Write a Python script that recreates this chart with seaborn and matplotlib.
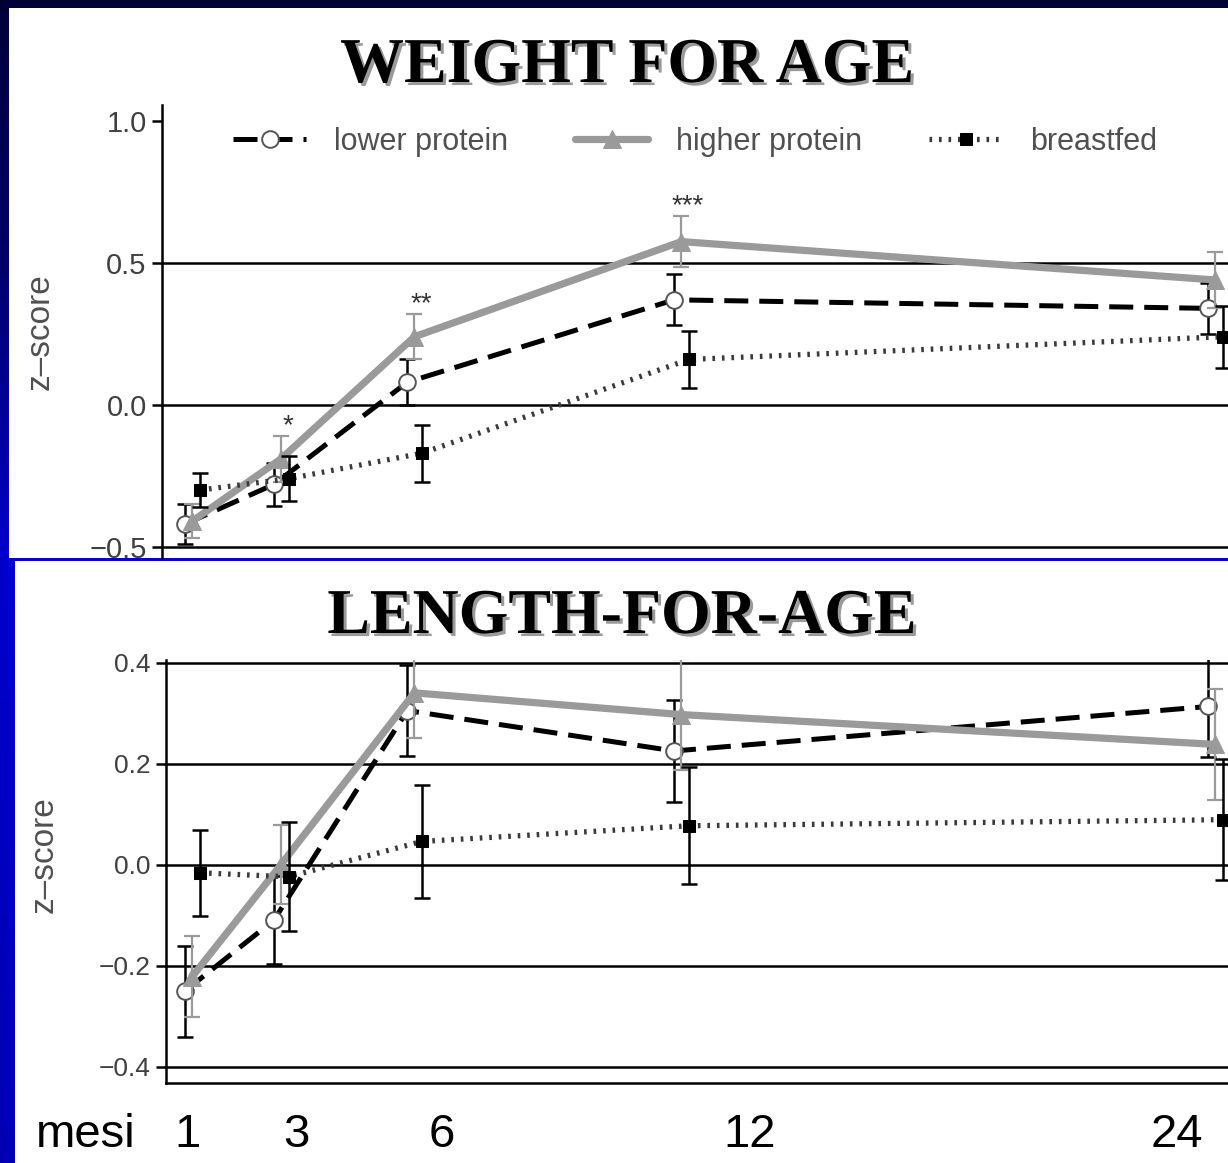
import numpy as np
import matplotlib
matplotlib.use('Agg')
import matplotlib.pyplot as plt
import matplotlib.patheffects as pe
from matplotlib.patches import Rectangle
import seaborn as sns

# months of follow-up
months = [1, 3, 6, 12, 24]
groups = ['lower protein', 'higher protein', 'breastfed']

# weight-for-age z-scores (mean and half width of error bar)
wfa_lower = [-0.42, -0.28, 0.08, 0.37, 0.34]
wfa_lower_err = [0.07, 0.075, 0.08, 0.09, 0.09]
wfa_higher = [-0.41, -0.19, 0.24, 0.575, 0.44]
wfa_higher_err = [0.06, 0.08, 0.08, 0.09, 0.10]
wfa_breast = [-0.30, -0.26, -0.17, 0.16, 0.24]
wfa_breast_err = [0.06, 0.08, 0.10, 0.10, 0.11]
wfa_stars = ['', '*', '**', '***', '']

# length-for-age z-scores
lfa_lower = [-0.25, -0.11, 0.305, 0.225, 0.313]
lfa_lower_err = [0.09, 0.087, 0.09, 0.10, 0.10]
lfa_higher = [-0.222, 0.0, 0.34, 0.297, 0.238]
lfa_higher_err = [0.08, 0.078, 0.09, 0.11, 0.11]
lfa_breast = [-0.016, -0.024, 0.046, 0.077, 0.089]
lfa_breast_err = [0.085, 0.108, 0.112, 0.116, 0.12]

mesi_labels = ['1', '3', '6', '12', '24']

sns.set_style('ticks')
plt.rcParams['font.family'] = ['Liberation Sans', 'DejaVu Sans']
plt.rcParams['text.color'] = 'black'

W, H = 1228, 1163
fig = plt.figure(figsize=(W / 100, H / 100), dpi=100)

# slide background: blue gradient and two white panels
bg = fig.add_axes([0, 0, 1, 1], zorder=-10)
rows = np.arange(H)
grad = np.zeros((H, 1, 3))
grad[:, 0, 2] = np.interp(rows, [0, 250, 560, 1163], [0.22, 0.40, 0.80, 0.70])
bg.imshow(grad, extent=(0, W, H, 0), aspect='auto', interpolation='bilinear')
bg.add_patch(Rectangle((9, 8), W - 9, 550, facecolor='white', edgecolor='none'))
bg.add_patch(Rectangle((15, 561), W - 15, H - 561, facecolor='white', edgecolor='none'))
bg.set_xlim(0, W)
bg.set_ylim(H, 0)
bg.axis('off')

title_fx = [pe.withSimplePatchShadow(offset=(2.2, -2.2), shadow_rgbFace='#9a9a9a', alpha=1.0)]
bg.text(627, 82, 'WEIGHT FOR AGE', ha='center', va='baseline', fontsize=46, color='black',
        fontweight='bold', family='Liberation Serif', path_effects=title_fx)
bg.text(622, 633, 'LENGTH-FOR-AGE', ha='center', va='baseline', fontsize=46, color='black',
        fontweight='bold', family='Liberation Serif', path_effects=title_fx)

# "mesi" month labels typed on the slide
bg.text(36, 1147, 'mesi', ha='left', va='baseline', fontsize=34, color='black')
for lab, px in zip(mesi_labels, [188, 296, 442, 750, 1177]):
    bg.text(px, 1147, lab, ha='center', va='baseline', fontsize=34, color='black')

# line and error bar styles per group
line_styles = {
    'lower protein': dict(color='black', linewidth=3.6, linestyle=(0, (4.8, 2.2)), marker='o',
                          markersize=12, markerfacecolor='white', markeredgecolor='#555',
                          markeredgewidth=1.4),
    'higher protein': dict(color='#9a9a9a', linewidth=5.2, linestyle='-', marker='^',
                           markersize=13, markerfacecolor='#9a9a9a', markeredgecolor='#9a9a9a'),
    'breastfed': dict(color='#3a3a3a', linewidth=3.8, linestyle=(0, (0.5, 1.3)), marker='s',
                      markersize=9, markerfacecolor='black', markeredgecolor='black'),
}
bar_styles = {
    'lower protein': dict(ecolor='black', elinewidth=1.8, capthick=1.8),
    'higher protein': dict(ecolor='#9a9a9a', elinewidth=1.6, capthick=1.6),
    'breastfed': dict(ecolor='black', elinewidth=1.8, capthick=1.8),
}
dodge = {'lower protein': -0.16, 'higher protein': 0.0, 'breastfed': 0.17}


def draw_panel(ax, values, errors, with_legend):
    for i, g in enumerate(groups):
        x = np.array(months) + dodge[g]
        ax.errorbar(x, values[i], yerr=errors[i], fmt='none', capsize=6, zorder=2 + i,
                    **bar_styles[g])
        sns.lineplot(x=x, y=values[i], ax=ax, label=g if with_legend else None,
                     legend=with_legend, zorder=2.5 + i, **line_styles[g])
    ax.set_xticks([])
    ax.set_xlabel('')
    ax.set_ylabel('z\u2013score', fontsize=24, color='#505050')
    ax.tick_params(axis='y', direction='out', length=7, width=1.8, color='black',
                   labelcolor='#404040', pad=4)
    ax.set_facecolor('none')
    for s in ['top', 'right']:
        ax.spines[s].set_visible(False)
    ax.spines['left'].set_linewidth(1.8)
    ax.spines['left'].set_color('black')


# top panel: weight for age
ax1 = fig.add_axes([162 / W, 1 - 558 / H, 1 - 162 / W, (558 - 105) / H])
draw_panel(ax1, [wfa_lower, wfa_higher, wfa_breast],
           [wfa_lower_err, wfa_higher_err, wfa_breast_err], True)
ax1.set_xlim(0.326, 24.29)
ax1.set_ylim(-0.539, 1.056)
ax1.set_yticks([-0.5, 0.0, 0.5, 1.0])
ax1.set_yticklabels(['\u22120.5', '0.0', '0.5', '1.0'], fontsize=21)
ax1.spines['bottom'].set_visible(False)
for v in [-0.5, 0.0, 0.5]:
    ax1.axhline(v, color='black', linewidth=1.8, zorder=1)
ax1.yaxis.set_label_coords(-0.100, 0.50)
for m, hv, he, star in zip(months, wfa_higher, wfa_higher_err, wfa_stars):
    if star:
        ax1.text(m + 0.15, hv + he + 0.035, star, ha='center', va='center',
                 fontsize=20, color='#333333')
ax1.legend(loc='center', bbox_to_anchor=(0.5, 0.918), ncol=3, frameon=False,
           fontsize=22, labelcolor='#505050', handlelength=2.4, handletextpad=0.9,
           columnspacing=2.2)

# bottom panel: length for age
ax2 = fig.add_axes([166 / W, 1 - 1083 / H, 1 - 166 / W, (1083 - 660) / H])
draw_panel(ax2, [lfa_lower, lfa_higher, lfa_breast],
           [lfa_lower_err, lfa_higher_err, lfa_breast_err], False)
ax2.set_xlim(0.416, 24.29)
ax2.set_ylim(-0.432, 0.405)
ax2.set_yticks([-0.4, -0.2, 0.0, 0.2, 0.4])
ax2.set_yticklabels(['\u22120.4', '\u22120.2', '0.0', '0.2', '0.4'], fontsize=19)
ax2.spines['bottom'].set_linewidth(1.8)
ax2.spines['bottom'].set_color('black')
for v in [-0.4, -0.2, 0.0, 0.2, 0.4]:
    ax2.axhline(v, color='black', linewidth=1.8, zorder=1)
ax2.yaxis.set_label_coords(-0.100, 0.54)

fig.savefig('out.png', dpi=100)
